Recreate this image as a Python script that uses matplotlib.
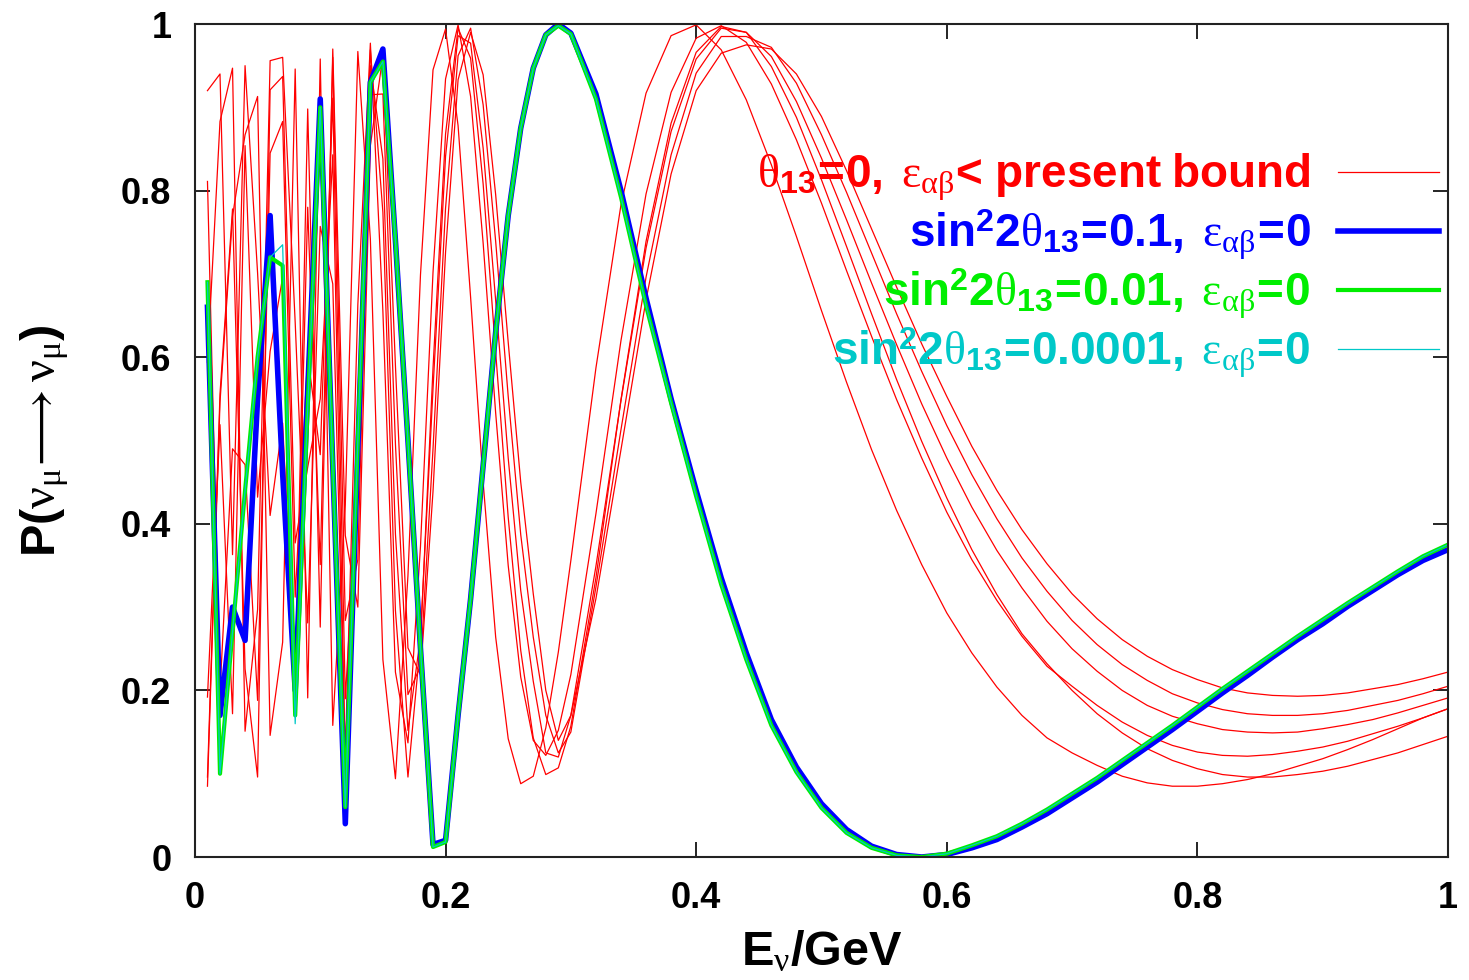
import matplotlib
matplotlib.use('Agg')
import matplotlib.pyplot as plt
from matplotlib.ticker import FormatStrFormatter

plt.rcParams['font.family'] = ['Liberation Sans', 'DejaVu Sans']
plt.rcParams['mathtext.fontset'] = 'custom'
plt.rcParams['mathtext.rm'] = 'Liberation Serif:weight=normal'
plt.rcParams['mathtext.it'] = 'Liberation Serif:italic'
plt.rcParams['mathtext.bf'] = 'Liberation Sans:bold'
plt.rcParams['mathtext.sf'] = 'Liberation Sans'

# neutrino energy (GeV): 0.01 steps below 0.3, 0.02 steps above
energy = [0.01, 0.02, 0.03, 0.04, 0.05, 0.06, 0.07, 0.08, 0.09, 0.10,
          0.11, 0.12, 0.13, 0.14, 0.15, 0.16, 0.17, 0.18, 0.19, 0.20,
          0.21, 0.22, 0.23, 0.24, 0.25, 0.26, 0.27, 0.28, 0.29,
          0.30, 0.32, 0.34, 0.36, 0.38, 0.40, 0.42, 0.44, 0.46, 0.48,
          0.50, 0.52, 0.54, 0.56, 0.58, 0.60, 0.62, 0.64, 0.66, 0.68,
          0.70, 0.72, 0.74, 0.76, 0.78, 0.80, 0.82, 0.84, 0.86, 0.88,
          0.90, 0.92, 0.94, 0.96, 0.98, 1.00]

# theta13 = 0, NSI epsilon below present bound (six curves)
red_1 = [0.92, 0.94, 0.363, 0.95, 0.701, 0.410, 0.521, 0.193, 0.898, 0.276,
         0.97, 0.386, 0.300, 0.854, 0.962, 0.590, 0.251, 0.219, 0.439, 0.726,
         0.933, 0.99, 0.939, 0.795, 0.618, 0.450, 0.316, 0.20, 0.14,
         0.17, 0.31, 0.489, 0.669, 0.820, 0.92, 0.965, 0.975, 0.97, 0.94,
         0.889, 0.824, 0.754, 0.684, 0.616, 0.553, 0.493, 0.440, 0.393, 0.352,
         0.316, 0.286, 0.261, 0.241, 0.225, 0.213, 0.203, 0.197, 0.194, 0.193,
         0.194, 0.197, 0.202, 0.207, 0.214, 0.222]
red_2 = [0.192, 0.519, 0.172, 0.854, 0.432, 0.607, 0.696, 0.208, 0.780, 0.351,
         0.960, 0.284, 0.357, 0.915, 0.916, 0.496, 0.195, 0.229, 0.490, 0.779,
         0.962, 0.995, 0.903, 0.739, 0.553, 0.387, 0.264, 0.17, 0.125,
         0.15, 0.324, 0.513, 0.696, 0.843, 0.941, 0.985, 0.985, 0.972, 0.929,
         0.867, 0.798, 0.725, 0.652, 0.583, 0.518, 0.459, 0.406, 0.359, 0.319,
         0.284, 0.255, 0.231, 0.212, 0.196, 0.185, 0.177, 0.172, 0.170, 0.170,
         0.172, 0.176, 0.182, 0.188, 0.196, 0.205]
red_3 = [0.811, 0.199, 0.490, 0.471, 0.188, 0.845, 0.883, 0.312, 0.603, 0.483,
         0.911, 0.190, 0.454, 0.950, 0.838, 0.388, 0.152, 0.264, 0.562, 0.841,
         0.986, 0.977, 0.851, 0.668, 0.479, 0.320, 0.211, 0.125, 0.12,
         0.17, 0.349, 0.548, 0.731, 0.871, 0.958, 0.995, 0.99, 0.961, 0.907,
         0.839, 0.765, 0.689, 0.615, 0.544, 0.479, 0.420, 0.368, 0.323, 0.283,
         0.250, 0.223, 0.200, 0.182, 0.169, 0.160, 0.153, 0.150, 0.149, 0.150,
         0.154, 0.159, 0.165, 0.173, 0.182, 0.191]
red_4 = [0.594, 0.883, 0.947, 0.151, 0.297, 0.956, 0.960, 0.642, 0.281, 0.757,
         0.688, 0.124, 0.663, 0.977, 0.655, 0.222, 0.137, 0.373, 0.702, 0.934,
         0.999, 0.913, 0.737, 0.533, 0.350, 0.216, 0.140, 0.122, 0.152,
         0.219, 0.412, 0.620, 0.796, 0.918, 0.983, 0.998, 0.978, 0.928, 0.861,
         0.785, 0.704, 0.625, 0.549, 0.479, 0.414, 0.357, 0.308, 0.265, 0.229,
         0.205, 0.182, 0.162, 0.146, 0.134, 0.126, 0.122, 0.121, 0.123, 0.127,
         0.132, 0.139, 0.148, 0.157, 0.167, 0.178]
red_5 = [0.096, 0.556, 0.778, 0.226, 0.096, 0.921, 0.937, 0.377, 0.468, 0.550,
         0.843, 0.111, 0.495, 0.969, 0.774, 0.296, 0.096, 0.258, 0.587, 0.868,
         0.995, 0.959, 0.808, 0.606, 0.408, 0.248, 0.143, 0.099, 0.107,
         0.157, 0.335, 0.549, 0.739, 0.881, 0.966, 0.997, 0.99, 0.949, 0.888,
         0.813, 0.733, 0.652, 0.573, 0.499, 0.431, 0.369, 0.315, 0.268, 0.232,
         0.200, 0.172, 0.149, 0.130, 0.116, 0.106, 0.099, 0.096, 0.096, 0.099,
         0.103, 0.109, 0.117, 0.125, 0.135, 0.145]
red_6 = [0.085, 0.546, 0.769, 0.867, 0.913, 0.146, 0.258, 0.946, 0.191, 0.958,
         0.158, 0.423, 0.967, 0.742, 0.237, 0.094, 0.338, 0.699, 0.945, 0.994,
         0.878, 0.672, 0.450, 0.264, 0.142, 0.088, 0.097, 0.155, 0.246,
         0.356, 0.587, 0.783, 0.917, 0.986, 0.999, 0.969, 0.909, 0.831, 0.745,
         0.656, 0.570, 0.489, 0.416, 0.351, 0.293, 0.245, 0.204, 0.170, 0.143,
         0.125, 0.110, 0.097, 0.089, 0.085, 0.085, 0.088, 0.093, 0.100, 0.109,
         0.118, 0.129, 0.141, 0.154, 0.167, 0.178]
red_curves = [red_1, red_2, red_3, red_4, red_5, red_6]

# sin^2 2theta13 = 0.1, 0.01, 0.0001 with epsilon = 0
blue = [0.66, 0.17, 0.30, 0.26, 0.55, 0.77, 0.46, 0.20, 0.56, 0.91,
        0.47, 0.04, 0.49, 0.93, 0.97, 0.74, 0.50, 0.25, 0.015, 0.02,
        0.17, 0.31, 0.47, 0.63, 0.77, 0.875, 0.947, 0.987, 1.0,
        0.989, 0.916, 0.80, 0.671, 0.55, 0.44, 0.335, 0.245, 0.165, 0.108,
        0.064, 0.033, 0.013, 0.003, 0.0, 0.003, 0.011, 0.021, 0.036, 0.052,
        0.071, 0.090, 0.111, 0.132, 0.153, 0.175, 0.197, 0.218, 0.240, 0.261,
        0.280, 0.301, 0.320, 0.339, 0.356, 0.369]
green = [0.69, 0.10, 0.27, 0.44, 0.60, 0.72, 0.71, 0.17, 0.54, 0.90,
         0.47, 0.06, 0.50, 0.93, 0.955, 0.74, 0.50, 0.25, 0.012, 0.018,
         0.17, 0.31, 0.47, 0.63, 0.77, 0.875, 0.947, 0.987, 0.998,
         0.988, 0.91, 0.792, 0.662, 0.545, 0.433, 0.327, 0.237, 0.158, 0.102,
         0.059, 0.029, 0.011, 0.002, 0.0, 0.004, 0.014, 0.025, 0.040, 0.057,
         0.076, 0.095, 0.116, 0.137, 0.158, 0.180, 0.202, 0.223, 0.244, 0.265,
         0.285, 0.305, 0.324, 0.343, 0.361, 0.375]
cyan = [0.69, 0.10, 0.27, 0.44, 0.60, 0.72, 0.735, 0.16, 0.54, 0.90,
        0.47, 0.06, 0.50, 0.93, 0.955, 0.74, 0.50, 0.25, 0.012, 0.018,
        0.17, 0.31, 0.47, 0.63, 0.77, 0.875, 0.947, 0.987, 0.998,
        0.988, 0.91, 0.792, 0.662, 0.545, 0.433, 0.327, 0.237, 0.158, 0.102,
        0.059, 0.029, 0.011, 0.002, 0.0, 0.004, 0.014, 0.025, 0.040, 0.057,
        0.076, 0.095, 0.116, 0.137, 0.158, 0.180, 0.202, 0.223, 0.244, 0.265,
        0.285, 0.305, 0.324, 0.343, 0.361, 0.375]

labels = [
    r'$\mathrm{\theta}_{\mathbf{13}}\mathbf{\!=\!0,\ }\mathrm{\varepsilon}_{\mathrm{\alpha\beta}}\mathbf{\!<\!\ present\ bound}$',
    r'$\mathbf{sin}^{\mathbf{2}}\mathbf{2}\mathrm{\theta}_{\mathbf{13}}\mathbf{\!=\!0.1,\ }\mathrm{\varepsilon}_{\mathrm{\alpha\beta}}\mathbf{\!=\!0}$',
    r'$\mathbf{sin}^{\mathbf{2}}\mathbf{2}\mathrm{\theta}_{\mathbf{13}}\mathbf{\!=\!0.01,\ }\mathrm{\varepsilon}_{\mathrm{\alpha\beta}}\mathbf{\!=\!0}$',
    r'$\mathbf{sin}^{\mathbf{2}}\mathbf{2}\mathrm{\theta}_{\mathbf{13}}\mathbf{\!=\!0.0001,\ }\mathrm{\varepsilon}_{\mathrm{\alpha\beta}}\mathbf{\!=\!0}$',
]

fig = plt.figure(figsize=(14.69, 9.8), dpi=100)
ax = fig.add_axes([0.1327, 0.1255, 0.853, 0.85])

for i, r in enumerate(red_curves):
    ax.plot(energy, r, color='#ff0000', lw=0.9, label=labels[0] if i == 0 else None)
ax.plot(energy, blue, color='#0000ff', lw=4.0, label=labels[1])
ax.plot(energy, green, color='#00ee00', lw=3.0, label=labels[2])
ax.plot(energy, cyan, color='#00c8c8', lw=0.9, label=labels[3])

ax.set_xlim(0, 1)
ax.set_ylim(0, 1)
ax.set_xticks([0, 0.2, 0.4, 0.6, 0.8, 1])
ax.set_yticks([0, 0.2, 0.4, 0.6, 0.8, 1])
ax.xaxis.set_major_formatter(FormatStrFormatter('%g'))
ax.yaxis.set_major_formatter(FormatStrFormatter('%g'))
ax.tick_params(direction='in', length=11, width=1.2, labelsize=26,
               top=True, right=True, pad=17)
plt.setp(ax.get_xticklabels() + ax.get_yticklabels(), fontweight='bold')
for s in ax.spines.values():
    s.set_linewidth(1.5)
    s.set_color('#222222')

ax.set_xlabel(r'$\mathbf{E}_{\mathrm{\nu}}\mathbf{/GeV}$', fontsize=35, labelpad=10)
ax.set_ylabel(r'$\mathbf{P(}\mathrm{\nu}_{\mathrm{\mu}}\!\mathrm{\longrightarrow}\mathrm{\nu}_{\mathrm{\mu}}\mathbf{)}$',
              fontsize=35, labelpad=36)

leg = ax.legend(loc='upper right', bbox_to_anchor=(1.011, 0.874), frameon=False,
                markerfirst=False, fontsize=33, handlelength=2.2,
                handletextpad=0.6, labelspacing=0.1, borderpad=0,
                labelcolor=['#ff0000', '#0000ff', '#00ee00', '#00c8c8'])

fig.savefig('out.png', dpi=100)
